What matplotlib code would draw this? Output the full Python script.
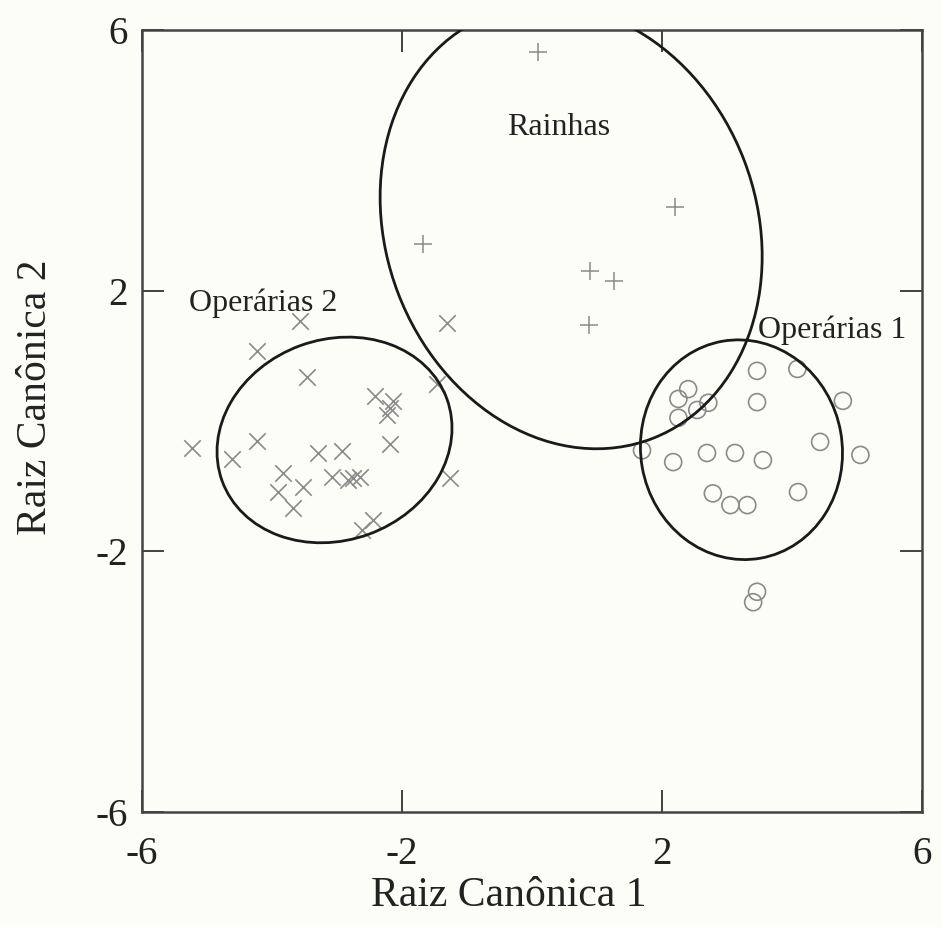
import matplotlib.pyplot as plt
from matplotlib.patches import Ellipse

# Rainhas (+)
rainhas_x = [0.09, 2.20, -1.68, 0.89, 1.26, 0.88]
rainhas_y = [5.66, 3.29, 2.71, 2.31, 2.15, 1.48]

# Operarias 2 (x)
op2_x = [-3.57, -4.23, -1.31, -3.46, -2.42, -2.14, -2.18, -2.23, -1.46, -5.23,
         -4.23, -4.62, -3.29, -2.92, -2.18, -3.83, -3.52, -3.91, -3.68, -3.08,
         -2.83, -2.65, -2.75, -1.26, -2.62, -2.45]
op2_y = [1.54, 1.08, 1.51, 0.68, 0.38, 0.31, 0.20, 0.09, 0.57, -0.42,
         -0.31, -0.58, -0.49, -0.46, -0.35, -0.80, -1.01, -1.09, -1.33, -0.86,
         -0.90, -0.86, -0.88, -0.88, -1.67, -1.52]

# Operarias 1 (o)
op1_x = [3.46, 4.08, 3.46, 4.78, 2.40, 2.25, 2.71, 2.54, 2.25, 4.43, 5.05,
         1.69, 2.17, 2.69, 3.12, 3.55, 2.78, 3.05, 3.31, 4.09, 3.46, 3.40]
op1_y = [0.77, 0.80, 0.29, 0.31, 0.49, 0.34, 0.28, 0.17, 0.05, -0.32, -0.52,
         -0.45, -0.63, -0.49, -0.49, -0.60, -1.11, -1.29, -1.29, -1.09, -2.62, -2.78]

# ellipses: center, width, height, angle
ell_centers = [(0.60, 2.98), (-3.04, -0.29), (3.22, -0.44)]
ell_widths = [6.96, 3.68, 3.10]
ell_heights = [5.70, 3.08, 3.38]
ell_angles = [111, 20, 10]

group_names = ["Rainhas", "Operárias 2", "Operárias 1"]
label_pos = [(0.40, 4.51), (-5.28, 1.81), (3.48, 1.40)]
label_ha = ["center", "left", "left"]

ticks = [-6, -2, 2, 6]

plt.rcParams['font.family'] = ['Liberation Serif', 'DejaVu Serif']
bg = '#fdfdf8'

fig = plt.figure(figsize=(9.41, 9.27), dpi=100, facecolor=bg)
ax = fig.add_axes([0.151, 0.124, 0.829, 0.8436])
ax.set_facecolor(bg)

grey = '#8a8a8a'
ax.scatter(rainhas_x, rainhas_y, marker='+', s=170, c=grey, linewidths=1.1, zorder=2)
ax.scatter(op2_x, op2_y, marker='x', s=140, c=grey, linewidths=1.2, zorder=2)
ax.scatter(op1_x, op1_y, marker='o', s=150, facecolors='none', edgecolors=grey,
           linewidths=1.2, zorder=2)

for c, w, h, a in zip(ell_centers, ell_widths, ell_heights, ell_angles):
    ax.add_patch(Ellipse(c, w, h, angle=a, fill=False, edgecolor='#1a1a1a', lw=2.0, zorder=3))

for name, (tx, ty), ha in zip(group_names, label_pos, label_ha):
    ax.text(tx, ty, name, fontsize=23, ha=ha, va='center', color='#222222', zorder=4)

ax.set_xlim(-6, 6)
ax.set_ylim(-6, 6)
ax.set_xticks(ticks)
ax.set_yticks(ticks)
ax.set_xticklabels([str(t) for t in ticks])
ax.set_yticklabels([str(t) for t in ticks])
ax.tick_params(direction='in', length=16, width=1.3, top=True, right=True,
               labelsize=28, color='#333333', labelcolor='#222222')
ax.tick_params(axis='x', pad=17)
ax.tick_params(axis='y', pad=10)
for s in ax.spines.values():
    s.set_linewidth(1.8)
    s.set_color('#444444')

ax.set_xlabel("Raiz Canônica 1", fontsize=30, color='#222222')
ax.set_ylabel("Raiz Canônica 2", fontsize=30, color='#222222')
ax.xaxis.set_label_coords(0.47, -0.083)
ax.yaxis.set_label_coords(-0.112, 0.53)

fig.savefig("out.png", dpi=100, facecolor=bg)
